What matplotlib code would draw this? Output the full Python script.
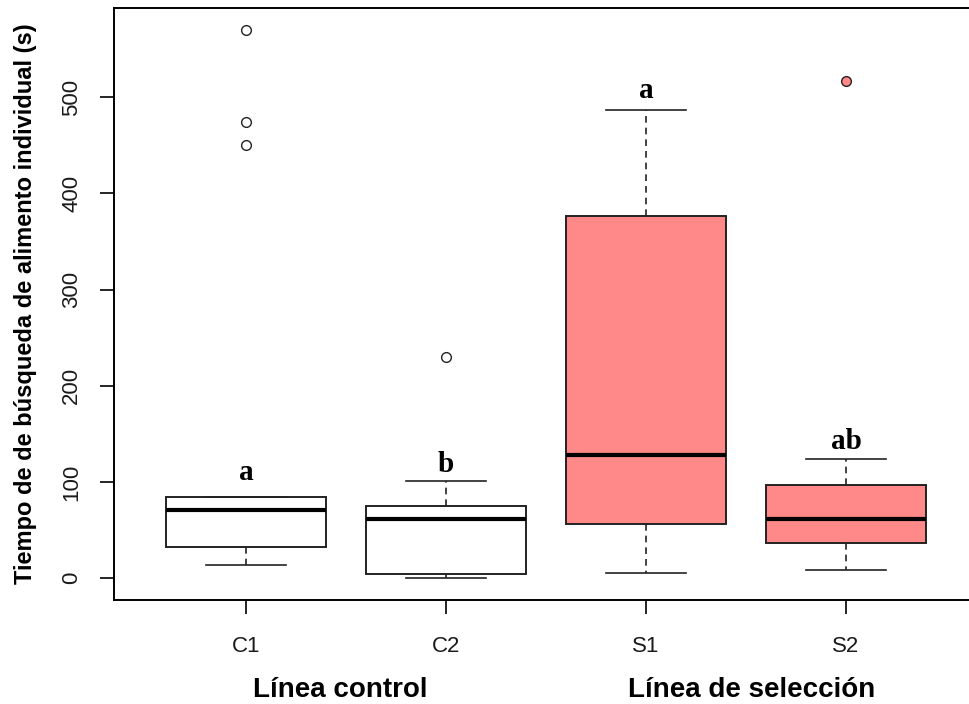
import matplotlib.pyplot as plt
from matplotlib.transforms import blended_transform_factory

groups = ["C1", "C2", "S1", "S2"]
q1 = [32, 4, 56, 36]
medians = [71, 61, 128, 61]
q3 = [84, 74.5, 376, 97]
whislo = [14, 0, 5, 8]
whishi = [84, 100.5, 487, 124]
fliers = [[570, 474, 450], [230], [], [517]]
letters = ["a", "b", "a", "ab"]
letter_y = [102, 110, 499, 134]
fills = ["white", "white", "#FF8888", "#FF8888"]
group_labels = ["Línea control", "Línea de selección"]
group_x = [1.47, 3.53]

stats = []
for i, g in enumerate(groups):
    stats.append(dict(label=g, q1=q1[i], med=medians[i], q3=q3[i],
                      whislo=whislo[i], whishi=whishi[i], fliers=fliers[i]))

fig = plt.figure(figsize=(9.69, 7.04), dpi=100)
ax = fig.add_axes([114 / 969, 104 / 704, 864 / 969, 592 / 704])

pos = list(range(1, len(groups) + 1))
bp = ax.bxp(stats, positions=pos, widths=0.8, patch_artist=True,
            boxprops=dict(edgecolor="#222222", linewidth=1.4),
            medianprops=dict(color="black", linewidth=3),
            whiskerprops=dict(color="#222222", linewidth=1.2, linestyle=(0, (4, 3))),
            capprops=dict(color="#222222", linewidth=1.2),
            capwidths=0.4)
for patch, c in zip(bp["boxes"], fills):
    patch.set_facecolor(c)
for fl, c in zip(bp["fliers"], fills):
    fl.set(marker="o", markersize=7, markerfacecolor=c,
           markeredgecolor="#222222", markeredgewidth=1)

for p, t, y in zip(pos, letters, letter_y):
    ax.text(p, y, t, ha="center", va="baseline", fontsize=21,
            fontweight="bold", family="Liberation Serif")

allv = whislo + whishi + [v for f in fliers for v in f]
lo, hi = min(allv), max(allv)
pad = (hi - lo) * 0.04
ax.set_ylim(lo - pad, hi + pad)
ax.set_xlim(0.34, 4.66)

ax.set_yticks([0, 100, 200, 300, 400, 500])
ax.tick_params(axis="y", labelrotation=90, labelsize=16, length=10, width=1.2, pad=13)
ax.tick_params(axis="x", labelsize=16, length=10, width=1.2, pad=16)
for t in ax.get_yticklabels():
    t.set_va("center")
for t in ax.get_xticklabels() + ax.get_yticklabels():
    t.set_family("Liberation Sans")
    t.set_color("#1a1a1a")
for s in ax.spines.values():
    s.set_linewidth(1.4)

ax.set_ylabel("Tiempo de de búsqueda de alimento individual (s)", fontsize=17,
              fontweight="bold", family="Liberation Sans", labelpad=17)

trans = blended_transform_factory(ax.transData, fig.transFigure)
for gx, gl in zip(group_x, group_labels):
    ax.text(gx, 7 / 704, gl, transform=trans, ha="center", va="baseline",
            fontsize=20, fontweight="bold", family="Liberation Sans")

fig.savefig("out.png", dpi=100)
